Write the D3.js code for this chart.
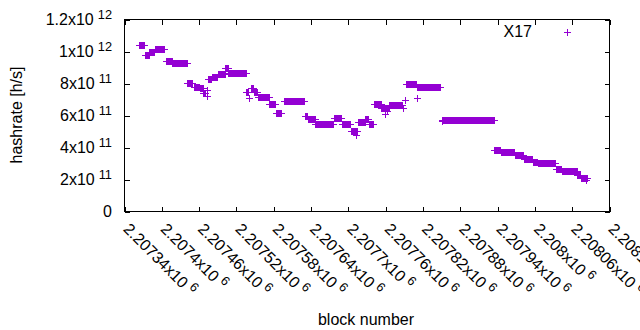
<!DOCTYPE html>
<html>
<head>
<script src="https://d3js.org/d3.v7.min.js"></script>
<style>
  body { margin: 0; background: white; }
  svg { display: block; }
  text { font-family: "Liberation Sans", Arial, sans-serif; fill: black; }
</style>
</head>
<body>
<script>
// runs of consecutive blocks sharing the same hashrate estimate
const runStart = [2207363, 2207373, 2207380, 2207389, 2207406, 2207417, 2207441, 2207451, 2207461, 2207467,
                  2207472, 2207473, 2207474, 2207480, 2207490, 2207502, 2207507, 2207536, 2207540, 2207543,
                  2207548, 2207554, 2207573, 2207583, 2207597, 2207630, 2207635, 2207637, 2207647, 2207677,
                  2207689, 2207704, 2207712, 2207715, 2207727, 2207733, 2207741, 2207753, 2207759, 2207762,
                  2207766, 2207788, 2207791, 2207792, 2207811, 2207811, 2207850, 2207851, 2207935, 2207945,
                  2207968, 2207983, 2207997, 2208005, 2208034, 2208043, 2208068, 2208074, 2208083];
const runEnd   = [2207371, 2207379, 2207387, 2207404, 2207416, 2207440, 2207449, 2207460, 2207466, 2207470,
                  2207472, 2207473, 2207479, 2207489, 2207501, 2207506, 2207535, 2207538, 2207540, 2207547,
                  2207553, 2207572, 2207582, 2207592, 2207629, 2207634, 2207635, 2207646, 2207676, 2207688,
                  2207703, 2207714, 2207712, 2207726, 2207732, 2207740, 2207752, 2207765, 2207759, 2207762,
                  2207786, 2207788, 2207791, 2207808, 2207811, 2207848, 2207850, 2207934, 2207944, 2207967,
                  2207981, 2207996, 2208004, 2208033, 2208042, 2208067, 2208073, 2208084, 2208083];
const runHashrate = [1.038e12, 0.981e12, 0.996e12, 1.017e12, 0.942e12, 0.929e12, 0.804e12, 0.781e12, 0.769e12, 0.741e12,
                     0.722e12, 0.761e12, 0.827e12, 0.839e12, 0.861e12, 0.898e12, 0.867e12, 0.750e12, 0.710e12, 0.769e12,
                     0.750e12, 0.716e12, 0.673e12, 0.617e12, 0.691e12, 0.600e12, 0.575e12, 0.581e12, 0.546e12, 0.584e12,
                     0.544e12, 0.504e12, 0.481e12, 0.558e12, 0.581e12, 0.544e12, 0.675e12, 0.647e12, 0.611e12, 0.631e12,
                     0.663e12, 0.650e12, 0.698e12, 0.798e12, 0.711e12, 0.777e12, 0.565e12, 0.573e12, 0.386e12, 0.373e12,
                     0.354e12, 0.329e12, 0.308e12, 0.304e12, 0.264e12, 0.254e12, 0.231e12, 0.208e12, 0.194e12];

const xTickValues = [2207340, 2207400, 2207460, 2207520, 2207580, 2207640, 2207700,
                     2207760, 2207820, 2207880, 2207940, 2208000, 2208060, 2208120];
const xTickMantissa = ['2.20734', '2.2074', '2.20746', '2.20752', '2.20758', '2.20764', '2.2077',
                       '2.20776', '2.20782', '2.20788', '2.20794', '2.208', '2.20806', '2.20812'];
const xTickExponent = ['6', '6', '6', '6', '6', '6', '6', '6', '6', '6', '6', '6', '6', '6'];

const yTickValues = [0, 2e11, 4e11, 6e11, 8e11, 1e12, 1.2e12];
const yTickMantissa = ['0', '2', '4', '6', '8', '1', '1.2'];
const yTickExponent = ['', '11', '11', '11', '11', '12', '12'];

const seriesName = 'X17';
const color = '#9400d3';

const w = 640, h = 330;
const plotLeft = 124.5, plotRight = 609.5, plotTop = 19.5, plotBottom = 211.5;
const arm = 3.5;

const svg = d3.select('body').append('svg').attr('width', w).attr('height', h);

const x = d3.scaleLinear().domain([2207340, 2208120]).range([plotLeft, plotRight]);
const y = d3.scaleLinear().domain([0, 1.2e12]).range([plotBottom, plotTop]);

const runs = runStart.map((s, i) => ({ s: s, e: runEnd[i], v: runHashrate[i] }));

// ticks on all four sides, pointing inward
const tickSize = 5;
svg.append('g').attr('transform', `translate(0,${plotBottom})`)
   .call(d3.axisBottom(x).tickValues(xTickValues).tickSize(-tickSize).tickFormat(''));
svg.append('g').attr('transform', `translate(0,${plotTop})`)
   .call(d3.axisTop(x).tickValues(xTickValues).tickSize(-tickSize).tickFormat(''));
svg.append('g').attr('transform', `translate(${plotLeft},0)`)
   .call(d3.axisLeft(y).tickValues(yTickValues).tickSize(-tickSize).tickFormat(''));
svg.append('g').attr('transform', `translate(${plotRight},0)`)
   .call(d3.axisRight(y).tickValues(yTickValues).tickSize(-tickSize).tickFormat(''));
svg.selectAll('.domain').remove();
svg.selectAll('.tick line').attr('stroke', 'black').attr('shape-rendering', 'crispEdges');

svg.append('rect')
   .attr('x', plotLeft).attr('y', plotTop)
   .attr('width', plotRight - plotLeft).attr('height', plotBottom - plotTop)
   .attr('fill', 'none').attr('stroke', 'black')
   .attr('shape-rendering', 'crispEdges');

// y tick labels
const yLab = svg.append('g').selectAll('text')
   .data(yTickValues)
   .enter()
   .append('text')
   .attr('x', 112)
   .attr('y', d => y(d) + 5.5)
   .attr('text-anchor', 'end')
   .style('font-size', '16px');
yLab.append('tspan').text((d, i) => yTickMantissa[i] === '0' ? '0' : yTickMantissa[i] + 'x10');
yLab.append('tspan')
    .attr('dx', (d, i) => yTickExponent[i] ? 4 : 0)
    .attr('dy', -6)
    .style('font-size', '12.8px')
    .text((d, i) => yTickExponent[i]);

// x tick labels, rotated
const xLab = svg.append('g').selectAll('text')
   .data(xTickValues)
   .enter()
   .append('text')
   .attr('transform', d => `translate(${x(d) - 2},230) rotate(45)`)
   .style('font-size', '16px');
xLab.append('tspan').text((d, i) => xTickMantissa[i] + 'x10');
xLab.append('tspan')
    .attr('dx', 4)
    .attr('dy', -6)
    .style('font-size', '12.8px')
    .text((d, i) => xTickExponent[i]);

// axis titles
svg.append('text')
   .attr('transform', 'translate(22,115) rotate(-90)')
   .attr('text-anchor', 'middle')
   .style('font-size', '16px')
   .text('hashrate [h/s]');
svg.append('text')
   .attr('x', 366).attr('y', 324.5)
   .attr('text-anchor', 'middle')
   .style('font-size', '16px')
   .text('block number');

// data: dense + markers merge into solid bars
const plus = (cx, cy) => `M${cx - arm},${cy}H${cx + arm}M${cx},${cy - arm}V${cy + arm}`;
const marks = svg.append('g').attr('shape-rendering', 'crispEdges');

marks.selectAll('rect')
     .data(runs.filter(d => d.e > d.s))
     .enter()
     .append('rect')
     .attr('x', d => Math.round(x(d.s)))
     .attr('y', d => Math.round(y(d.v)) - arm)
     .attr('width', d => Math.max(1, Math.round(x(d.e)) - Math.round(x(d.s))))
     .attr('height', 2 * arm)
     .attr('fill', color);

marks.selectAll('path')
     .data(runs)
     .enter()
     .append('path')
     .attr('d', d => {
       const cy = Math.round(y(d.v)) + 0.5;
       return plus(Math.round(x(d.s)) + 0.5, cy) + plus(Math.round(x(d.e)) + 0.5, cy);
     })
     .attr('fill', 'none')
     .attr('stroke', color)
     .attr('stroke-width', 1);

// legend
svg.append('text')
   .attr('x', 532).attr('y', 37)
   .attr('text-anchor', 'end')
   .style('font-size', '16px')
   .text(seriesName);
svg.append('path')
   .attr('d', plus(567.5, 32.5))
   .attr('stroke', color)
   .attr('fill', 'none')
   .attr('shape-rendering', 'crispEdges');
</script>
</body>
</html>
